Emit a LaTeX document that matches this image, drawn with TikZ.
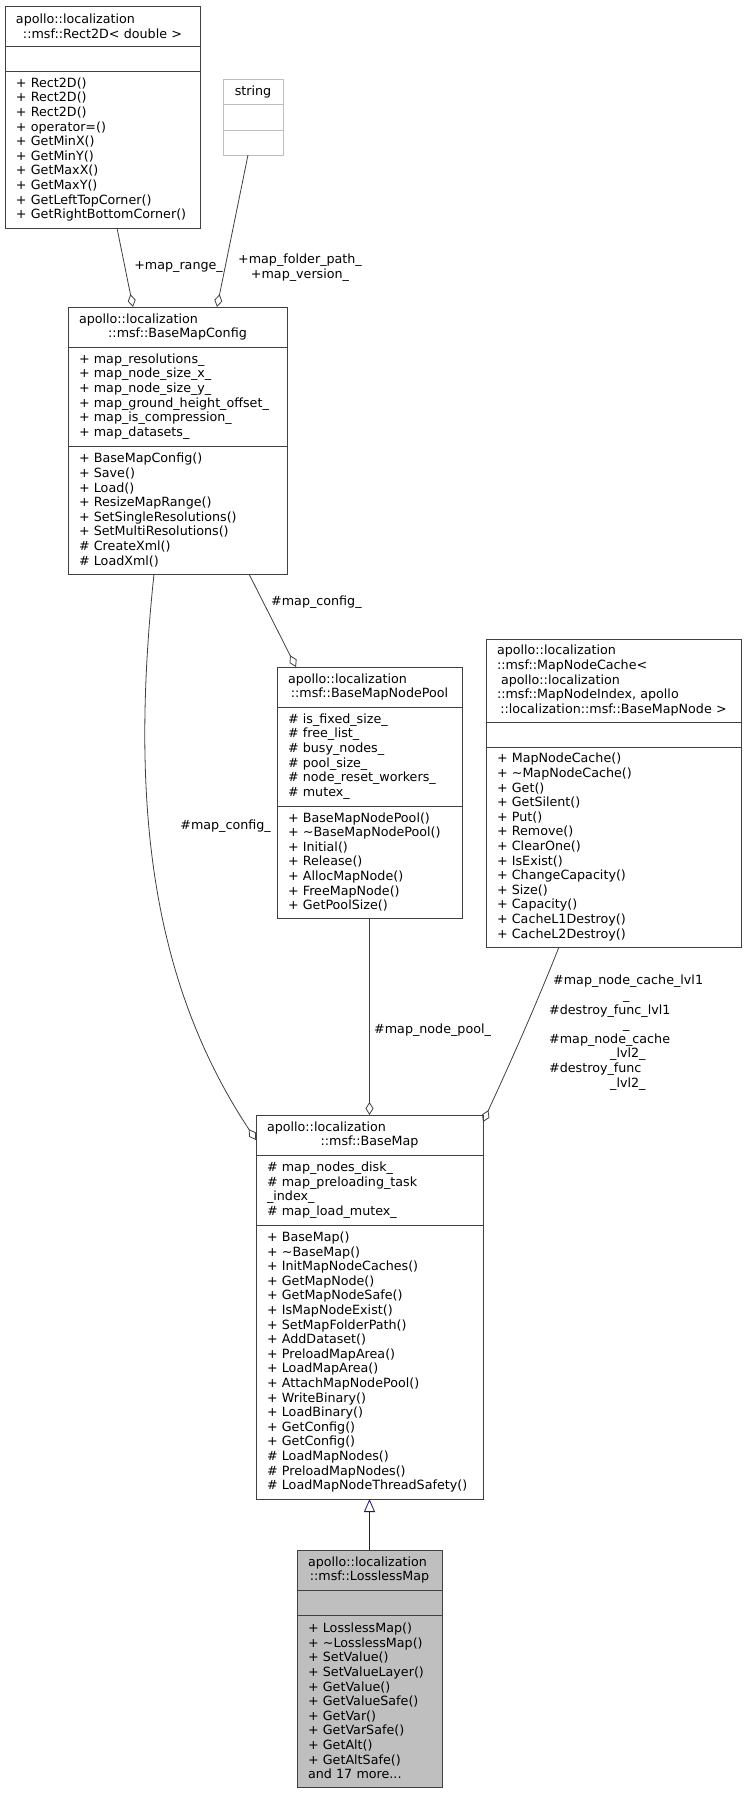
\documentclass[tikz,border=0pt]{standalone}
\usepackage{fontspec}
\setmainfont{DejaVu Sans}
\usepackage{tikz}
\usetikzlibrary{arrows.meta, positioning}
\definecolor{dgedge}{HTML}{404040}
\definecolor{inh}{HTML}{191970}
\definecolor{faded}{HTML}{BFBFBF}
\newcommand{\dgfont}{\fontsize{12.7}{14.6}\selectfont}
\newcommand{\ctr}[1]{\makebox[\linewidth]{#1}}

\begin{document}
\begin{tikzpicture}[x=1pt, y=-1pt,
  cls/.style={draw=dgedge, line width=0.9pt, fill=white, font=\dgfont,
    inner xsep=11pt, inner ysep=0pt, outer sep=0pt, align=left},
  agg/.style={draw=dgedge, line width=0.8pt, -{Diamond[open, length=13pt, width=8pt]}},
  inhe/.style={draw=inh, line width=0.8pt, -{Triangle[open, length=13pt, width=11pt]}},
  lbl/.style={font=\dgfont, inner sep=0pt, align=left}]
  \fill[white] (0,0) rectangle (746,1793);
  \useasboundingbox (0,0) rectangle (746,1793);

  % Rect2D
  \node[cls, text width=173pt, minimum height=40pt, anchor=north west] (r2d) at (5,6)
    {apollo::localization\\\ctr{::msf::Rect2D< double >}};
  \node[cls, text width=173pt, minimum height=25pt, below=0pt of r2d] (r2d-a) {};
  \node[cls, text width=173pt, minimum height=157pt, below=0pt of r2d-a] (r2d-o)
    {+ Rect2D()\\+ Rect2D()\\+ Rect2D()\\+ operator=()\\+ GetMinX()\\+ GetMinY()\\
     + GetMaxX()\\+ GetMaxY()\\+ GetLeftTopCorner()\\+ GetRightBottomCorner()};

  % string
  \node[cls, draw=faded, align=center, text width=38pt, minimum height=25pt, anchor=north west] (str) at (223,79) {string};
  \node[cls, draw=faded, text width=38pt, minimum height=26pt, below=0pt of str] (str-a) {};
  \node[cls, draw=faded, text width=38pt, minimum height=25pt, below=0pt of str-a] (str-o) {};

  % BaseMapConfig
  \node[cls, text width=197pt, minimum height=40pt, anchor=north west] (bmc) at (68,307)
    {apollo::localization\\\ctr{::msf::BaseMapConfig}};
  \node[cls, text width=197pt, minimum height=99pt, below=0pt of bmc] (bmc-a)
    {+ map\_resolutions\_\\+ map\_node\_size\_x\_\\+ map\_node\_size\_y\_\\
     + map\_ground\_height\_offset\_\\+ map\_is\_compression\_\\+ map\_datasets\_};
  \node[cls, text width=197pt, minimum height=128pt, below=0pt of bmc-a] (bmc-o)
    {+ BaseMapConfig()\\+ Save()\\+ Load()\\+ ResizeMapRange()\\+ SetSingleResolutions()\\
     + SetMultiResolutions()\\\# CreateXml()\\\# LoadXml()};

  % BaseMapNodePool
  \node[cls, text width=163pt, minimum height=40pt, anchor=north west] (pool) at (277,667)
    {apollo::localization\\\ctr{::msf::BaseMapNodePool}};
  \node[cls, text width=163pt, minimum height=99pt, below=0pt of pool] (pool-a)
    {\# is\_fixed\_size\_\\\# free\_list\_\\\# busy\_nodes\_\\\# pool\_size\_\\
     \# node\_reset\_workers\_\\\# mutex\_};
  \node[cls, text width=163pt, minimum height=112pt, below=0pt of pool-a] (pool-o)
    {+ BaseMapNodePool()\\+ \textasciitilde BaseMapNodePool()\\+ Initial()\\+ Release()\\
     + AllocMapNode()\\+ FreeMapNode()\\+ GetPoolSize()};

  % MapNodeCache
  \node[cls, text width=233pt, minimum height=83pt, anchor=north west] (cache) at (486,639)
    {apollo::localization\\::msf::MapNodeCache<\\\hspace*{4pt}apollo::localization\\
     ::msf::MapNodeIndex, apollo\\\ctr{::localization::msf::BaseMapNode >}};
  \node[cls, text width=233pt, minimum height=25pt, below=0pt of cache] (cache-a) {};
  \node[cls, text width=233pt, minimum height=200pt, below=0pt of cache-a] (cache-o)
    {+ MapNodeCache()\\+ \textasciitilde MapNodeCache()\\+ Get()\\+ GetSilent()\\+ Put()\\
     + Remove()\\+ ClearOne()\\+ IsExist()\\+ ChangeCapacity()\\+ Size()\\+ Capacity()\\
     + CacheL1Destroy()\\+ CacheL2Destroy()};

  % BaseMap
  \node[cls, text width=205pt, minimum height=40pt, anchor=north west] (bm) at (256,1115)
    {apollo::localization\\\ctr{::msf::BaseMap}};
  \node[cls, text width=205pt, minimum height=70pt, below=0pt of bm] (bm-a)
    {\# map\_nodes\_disk\_\\\# map\_preloading\_task\\\_index\_\\\# map\_load\_mutex\_};
  \node[cls, text width=205pt, minimum height=274pt, below=0pt of bm-a] (bm-o)
    {+ BaseMap()\\+ \textasciitilde BaseMap()\\+ InitMapNodeCaches()\\+ GetMapNode()\\
     + GetMapNodeSafe()\\+ IsMapNodeExist()\\+ SetMapFolderPath()\\+ AddDataset()\\
     + PreloadMapArea()\\+ LoadMapArea()\\+ AttachMapNodePool()\\+ WriteBinary()\\
     + LoadBinary()\\+ GetConfig()\\+ GetConfig()\\\# LoadMapNodes()\\\# PreloadMapNodes()\\
     \# LoadMapNodeThreadSafety()};

  % LosslessMap
  \node[cls, fill=faded, text width=123pt, minimum height=40pt, anchor=north west] (lm) at (297,1550)
    {apollo::localization\\\ctr{::msf::LosslessMap}};
  \node[cls, fill=faded, text width=123pt, minimum height=25pt, below=0pt of lm] (lm-a) {};
  \node[cls, fill=faded, text width=123pt, minimum height=172pt, below=0pt of lm-a] (lm-o)
    {+ LosslessMap()\\+ \textasciitilde LosslessMap()\\+ SetValue()\\+ SetValueLayer()\\
     + GetValue()\\+ GetValueSafe()\\+ GetVar()\\+ GetVarSafe()\\+ GetAlt()\\+ GetAltSafe()\\
     and 17 more...};

  % connectors
  \draw[agg] ([xshift=112pt]r2d-o.south west) -- ([xshift=65pt]bmc.north west);
  \draw[agg] ([xshift=25pt]str-o.south west) -- ([xshift=149pt]bmc.north west);
  \draw[agg] ([xshift=181pt]bmc-o.south west) -- ([xshift=19pt]pool.north west);
  \draw[agg] ([xshift=86pt]bmc-o.south west) .. controls (130,800) and (150,980)
    .. ([yshift=-25pt]bm.north west);
  \draw[agg] (pool-o.south) -- (bm.north);
  \draw[agg] ([xshift=73pt]cache-o.south west) .. controls (530,1020) and (500,1085)
    .. ([yshift=-7pt]bm.north east);
  \draw[inhe] (lm.north) -- (bm-o.south);

  % labels
  \node[lbl, anchor=east] (l-range) at (223,267) {+map\_range\_};
  \node[lbl, align=center] (l-str) at (300,267.5) {+map\_folder\_path\_\\+map\_version\_};
  \node[lbl, anchor=west] (l-cfg1) at (271,602) {\#map\_config\_};
  \node[lbl, anchor=east] (l-cfg2) at (271,826) {\#map\_config\_};
  \node[lbl, anchor=west] (l-pool) at (374,1030) {\#map\_node\_pool\_};
  \node[lbl, anchor=north west] (l-cache) at (549,975)
    {\hspace*{4pt}\#map\_node\_cache\_lvl1\\\hspace*{74pt}\_\\\#destroy\_func\_lvl1\\
     \hspace*{74pt}\_\\\#map\_node\_cache\\\hspace*{61pt}\_lvl2\_\\\#destroy\_func\\
     \hspace*{61pt}\_lvl2\_};
\end{tikzpicture}
\end{document}
